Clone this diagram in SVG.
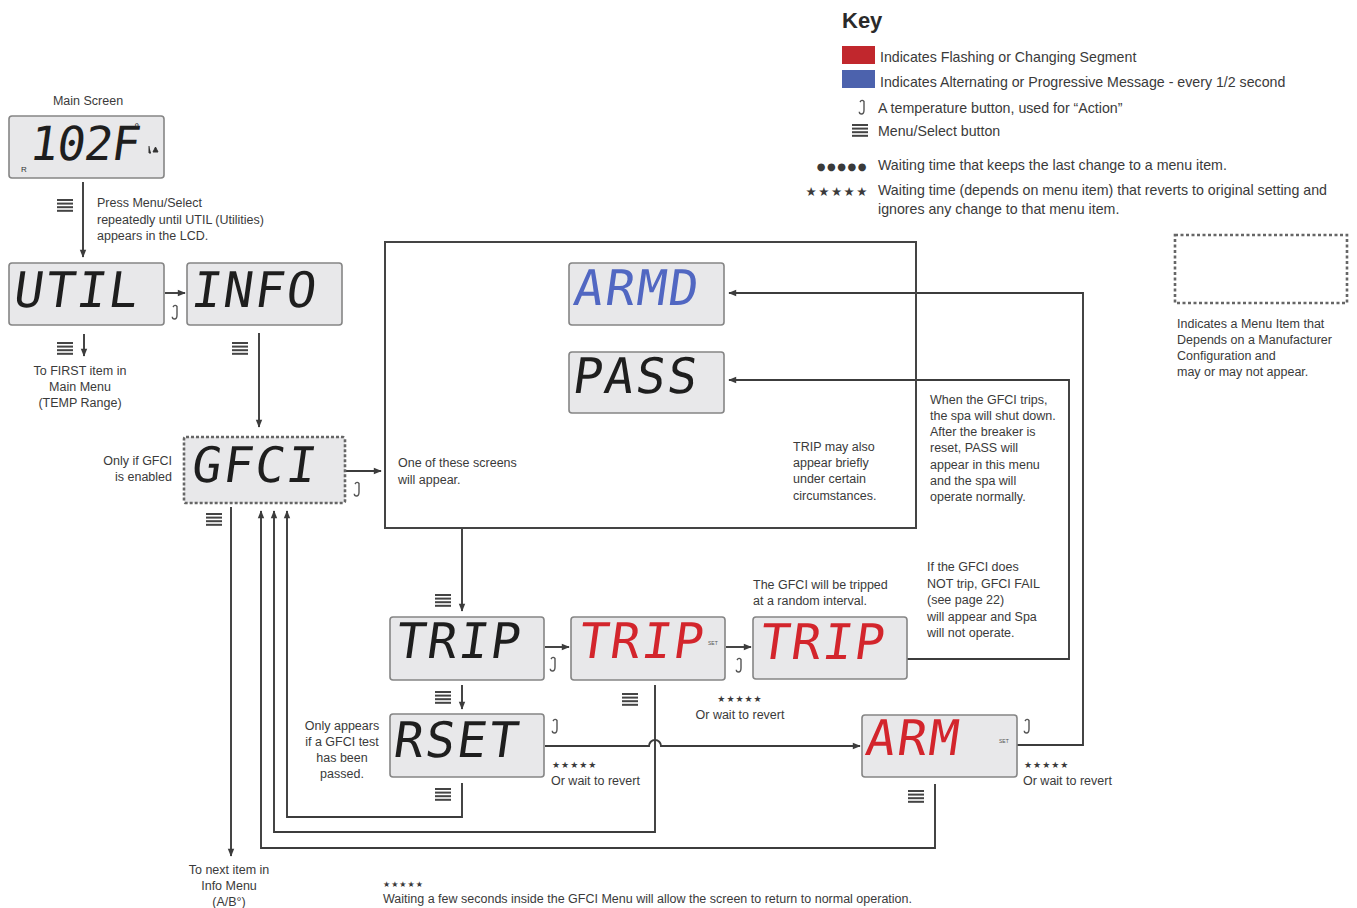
<svg xmlns="http://www.w3.org/2000/svg" xmlns:xlink="http://www.w3.org/1999/xlink" width="1357" height="908" viewBox="0 0 1357 908">
<style>
.lcd{fill:#e8e8ea;stroke:#858585;stroke-width:1.6}
.dash{fill:#e8e8ea;stroke:#666;stroke-width:2.6;stroke-dasharray:3 2}
.seg{font-family:"DejaVu Sans Mono",monospace;font-size:49px;letter-spacing:2px}
.k{fill:#1e1e1e}.r{fill:#d3252c}.b{fill:#5167c2}
.t{font-family:"Liberation Sans",Arial,sans-serif;font-size:12.5px;fill:#3a3a3a}
.key{font-family:"Liberation Sans",Arial,sans-serif;font-size:14.2px;fill:#3a3a3a}
.c{text-anchor:middle}.e{text-anchor:end}
.ln{fill:none;stroke:#3c3c3c;stroke-width:1.9}
.box{fill:none;stroke:#444;stroke-width:2}
.st{font-family:"DejaVu Sans",sans-serif;fill:#3a3a3a}
.set{font-family:"Liberation Sans",Arial,sans-serif;font-size:5px;fill:#555}
</style>
<defs>
<marker id="ar" viewBox="0 0 10 10" refX="9" refY="5" markerWidth="9" markerHeight="8" markerUnits="userSpaceOnUse" orient="auto">
<path d="M0,1 L10,5 L0,9 Z" fill="#3c3c3c"/>
</marker>
<g id="menu" fill="#444"><rect x="0" y="0" width="16" height="2"/><rect x="0" y="3.6" width="16" height="2"/><rect x="0" y="7.2" width="16" height="2"/><rect x="0" y="10.8" width="16" height="2"/></g>
<path id="temp" d="M1,3 Q3,0 5,2.5 V11 Q5,15 2.5,15 Q0.3,15 0.3,12.8" fill="none" stroke="#555" stroke-width="1.4"/>
</defs>
<rect width="1357" height="908" fill="#fff"/>

<!-- Key -->
<g id="key">
<text x="842" y="28" font-family="Liberation Sans,Arial,sans-serif" font-size="22" font-weight="bold" fill="#2a2a2a">Key</text>
<rect x="842" y="46" width="33" height="18" fill="#c1272d"/>
<text class="key" x="880" y="62">Indicates Flashing or Changing Segment</text>
<rect x="842" y="70" width="33" height="18" fill="#4c62ad"/>
<text class="key" x="880" y="87">Indicates Alternating or Progressive Message - every 1/2 second</text>
<use xlink:href="#temp" x="859" y="99"/>
<text class="key" x="878" y="113">A temperature button, used for “Action”</text>
<use xlink:href="#menu" x="852" y="124"/>
<text class="key" x="878" y="136">Menu/Select button</text>
<text class="st" x="868" y="170" font-size="10" letter-spacing="1.5" text-anchor="end">●●●●●</text>
<text class="key" x="878" y="170">Waiting time that keeps the last change to a menu item.</text>
<text class="st" x="869" y="196" font-size="12.5" letter-spacing="1.5" text-anchor="end">★★★★★</text>
<text class="key" x="878" y="195">Waiting time (depends on menu item) that reverts to original setting and</text>
<text class="key" x="878" y="214">ignores any change to that menu item.</text>
</g>
<g id="key-dashed">
<rect x="1175" y="235" width="172" height="68" fill="none" stroke="#666" stroke-width="2.6" stroke-dasharray="3 2.5"/>
<text class="t" x="1177" y="328">Indicates a Menu Item that</text>
<text class="t" x="1177" y="344">Depends on a Manufacturer</text>
<text class="t" x="1177" y="360">Configuration and</text>
<text class="t" x="1177" y="376">may or may not appear.</text>
</g>

<!-- Connectors -->
<g id="connectors">
<path class="ln" d="M83,182 V257" marker-end="url(#ar)"/>
<path class="ln" d="M165,293 H185" marker-end="url(#ar)"/>
<path class="ln" d="M84,334 V356" marker-end="url(#ar)"/>
<path class="ln" d="M259,333 V427" marker-end="url(#ar)"/>
<path class="ln" d="M345,471 H381" marker-end="url(#ar)"/>
<path class="ln" d="M231,507 V856" marker-end="url(#ar)"/>
<path class="ln" d="M462,783 V817 H287 V511" marker-end="url(#ar)"/>
<path class="ln" d="M655,685 V832 H274 V511" marker-end="url(#ar)"/>
<path class="ln" d="M935,784 V848 H261 V511" marker-end="url(#ar)"/>
<path class="ln" d="M462,528 V611" marker-end="url(#ar)"/>
<path class="ln" d="M545,647 H569" marker-end="url(#ar)"/>
<path class="ln" d="M726,647 H751" marker-end="url(#ar)"/>
<path class="ln" d="M462,685 V709" marker-end="url(#ar)"/>
<path class="ln" d="M545,746 H649 A6,6 0 0 1 661,746 H860" marker-end="url(#ar)"/>
<path class="ln" d="M907,659 H1069 V380 H729" marker-end="url(#ar)"/>
<path class="ln" d="M1017,745 H1083 V293 H729" marker-end="url(#ar)"/>
<use xlink:href="#menu" x="57" y="199"/>
<use xlink:href="#menu" x="57" y="342"/>
<use xlink:href="#menu" x="232" y="342"/>
<use xlink:href="#menu" x="206" y="513"/>
<use xlink:href="#menu" x="435" y="594"/>
<use xlink:href="#menu" x="435" y="691"/>
<use xlink:href="#menu" x="622" y="693"/>
<use xlink:href="#menu" x="435" y="788"/>
<use xlink:href="#menu" x="908" y="790"/>
<use xlink:href="#temp" x="172" y="304"/>
<use xlink:href="#temp" x="354" y="481"/>
<use xlink:href="#temp" x="550" y="656"/>
<use xlink:href="#temp" x="736" y="657"/>
<use xlink:href="#temp" x="552" y="718"/>
<use xlink:href="#temp" x="1024" y="718"/>
</g>

<!-- Nodes -->
<g id="main-screen">
<text class="t c" x="88" y="105">Main Screen</text>
<rect class="lcd" x="9" y="116" width="155" height="62" rx="3"/>
<text class="seg k" transform="translate(28,160) skewX(-8)" style="font-size:47px;letter-spacing:-1px">102F</text>
<text x="134" y="131" font-family="DejaVu Sans,sans-serif" font-size="11" fill="#333">°</text>
<text x="21" y="172" font-family="Liberation Sans,Arial,sans-serif" font-size="8" fill="#333">R</text>
<path d="M149,146 V153 H151 M153,152 L155.5,147 L158,152 Z" fill="#333" stroke="#333" stroke-width="1"/>
</g>
<g id="press-note">
<text class="t" x="97" y="207">Press Menu/Select</text>
<text class="t" x="97" y="224">repeatedly until UTIL (Utilities)</text>
<text class="t" x="97" y="240">appears in the LCD.</text>
</g>
<g id="util">
<rect class="lcd" x="9" y="263" width="155" height="62" rx="3"/>
<text class="seg k" transform="translate(12,307) skewX(-8)">UTIL</text>
</g>
<g id="info">
<rect class="lcd" x="187" y="263" width="155" height="62" rx="3"/>
<text class="seg k" transform="translate(190,307) skewX(-8)">INFO</text>
</g>
<g id="first-note">
<text class="t c" x="80" y="375">To FIRST item in</text>
<text class="t c" x="80" y="391">Main Menu</text>
<text class="t c" x="80" y="407">(TEMP Range)</text>
</g>
<g id="gfci">
<rect class="dash" x="184" y="437" width="161" height="66" rx="2"/>
<text class="seg k" transform="translate(190,482) skewX(-8)">GFCI</text>
<text class="t e" x="172" y="465">Only if GFCI</text>
<text class="t e" x="172" y="481">is enabled</text>
</g>
<g id="screens-box">
<rect class="box" x="385" y="242" width="531" height="286"/>
<text class="t" x="398" y="467">One of these screens</text>
<text class="t" x="398" y="484">will appear.</text>
<text class="t" x="793" y="451">TRIP may also</text>
<text class="t" x="793" y="467">appear briefly</text>
<text class="t" x="793" y="483">under certain</text>
<text class="t" x="793" y="500">circumstances.</text>
</g>
<g id="armd">
<rect class="lcd" x="569" y="263" width="155" height="62" rx="3"/>
<text class="seg b" transform="translate(572,305) skewX(-8)">ARMD</text>
</g>
<g id="pass">
<rect class="lcd" x="569" y="352" width="155" height="61" rx="3"/>
<text class="seg k" transform="translate(571,393) skewX(-8)">PASS</text>
</g>
<g id="gfci-trips-note">
<text class="t" x="930" y="404">When the GFCI trips,</text>
<text class="t" x="930" y="420">the spa will shut down.</text>
<text class="t" x="930" y="436">After the breaker is</text>
<text class="t" x="930" y="452">reset, PASS will</text>
<text class="t" x="930" y="469">appear in this menu</text>
<text class="t" x="930" y="485">and the spa will</text>
<text class="t" x="930" y="501">operate normally.</text>
</g>
<g id="trip1">
<rect class="lcd" x="390" y="617" width="154" height="63" rx="3"/>
<text class="seg k" transform="translate(394,658) skewX(-8)">TRIP</text>
</g>
<g id="trip2">
<rect class="lcd" x="571" y="617" width="154" height="63" rx="3"/>
<text class="seg r" transform="translate(577,658) skewX(-8)">TRIP</text>
<text class="set" x="708" y="645">SET</text>
</g>
<g id="trip3">
<rect class="lcd" x="753" y="617" width="154" height="62" rx="3"/>
<text class="seg r" transform="translate(758,659) skewX(-8)">TRIP</text>
<text class="t" x="753" y="589">The GFCI will be tripped</text>
<text class="t" x="753" y="605">at a random interval.</text>
</g>
<g id="fail-note">
<text class="t" x="927" y="571">If the GFCI does</text>
<text class="t" x="927" y="588">NOT trip, GFCI FAIL</text>
<text class="t" x="927" y="604">(see page 22)</text>
<text class="t" x="927" y="621">will appear and Spa</text>
<text class="t" x="927" y="637">will not operate.</text>
</g>
<g id="trip-revert">
<text class="st c" x="740" y="702" font-size="9" letter-spacing="1">★★★★★</text>
<text class="t c" x="740" y="719">Or wait to revert</text>
</g>
<g id="rset">
<rect class="lcd" x="390" y="714" width="154" height="63" rx="3"/>
<text class="seg k" transform="translate(392,757) skewX(-8)">RSET</text>
<text class="t c" x="342" y="730">Only appears</text>
<text class="t c" x="342" y="746">if a GFCI test</text>
<text class="t c" x="342" y="762">has been</text>
<text class="t c" x="342" y="778">passed.</text>
<text class="st" x="552" y="768" font-size="9" letter-spacing="1">★★★★★</text>
<text class="t" x="551" y="785">Or wait to revert</text>
</g>
<g id="arm">
<rect class="lcd" x="862" y="715" width="155" height="62" rx="3"/>
<text class="seg r" transform="translate(864,755) skewX(-8)">ARM</text>
<text class="set" x="999" y="743">SET</text>
<text class="st" x="1024" y="768" font-size="9" letter-spacing="1">★★★★★</text>
<text class="t" x="1023" y="785">Or wait to revert</text>
</g>
<g id="next-note">
<text class="t c" x="229" y="874">To next item in</text>
<text class="t c" x="229" y="890">Info Menu</text>
<text class="t c" x="229" y="906">(A/B°)</text>
</g>
<g id="footer">
<text class="st" x="383" y="887" font-size="8" letter-spacing="1">★★★★★</text>
<text class="t" x="383" y="903">Waiting a few seconds inside the GFCI Menu will allow the screen to return to normal operation.</text>
</g>
</svg>
